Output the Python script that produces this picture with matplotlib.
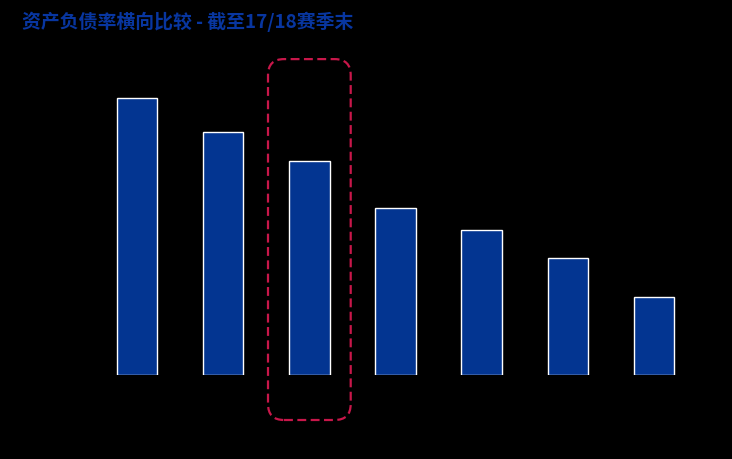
import matplotlib
matplotlib.use("Agg")
import matplotlib.pyplot as plt
from matplotlib.patches import FancyBboxPatch
from matplotlib.transforms import IdentityTransform

plt.rcParams['font.family'] = ['Noto Sans CJK SC', 'DejaVu Sans']

# 资产负债率 (%)
values = [92.3, 81.0, 71.3, 55.7, 48.3, 39.0, 26.0]
positions = list(range(len(values)))
highlight = 2

title = "资产负债率横向比较 - 截至17/18赛季末"
bar_color = '#033591'
box_color = '#c8174a'

fig = plt.figure(figsize=(7.32, 4.6), dpi=100, facecolor='black')
# axes in pixel terms: left 94, right 697, baseline at y=375, top at y=75
ax = fig.add_axes([94 / 732, 84 / 460, 603 / 732, 300 / 460])
ax.set_facecolor('black')
ax.bar(positions, values, width=0.47, color=bar_color, edgecolor='white', linewidth=1)
ax.set_xlim(-0.5, len(values) - 0.5)
ax.set_ylim(0, 100)
ax.axis('off')

fig.text(22 / 732, 1 - 22 / 460, title, color='#0836a0', fontsize=13.6,
         fontweight='bold', ha='left', va='center')

# dashed rounded frame around the highlighted bar
fig.canvas.draw()
x0, y0 = ax.transData.transform((highlight - 0.48, -15))
x1, y1 = ax.transData.transform((highlight + 0.48, 105.3))
r = 16
box = FancyBboxPatch((x0 + r, y0 + r), (x1 - x0) - 2 * r, (y1 - y0) - 2 * r,
                     boxstyle=f"round,pad={r}", transform=IdentityTransform(),
                     fill=False, edgecolor=box_color, linewidth=1.6,
                     linestyle=(0, (4, 2)))
fig.patches.append(box)

fig.savefig('out.png', dpi=100, facecolor='black')
